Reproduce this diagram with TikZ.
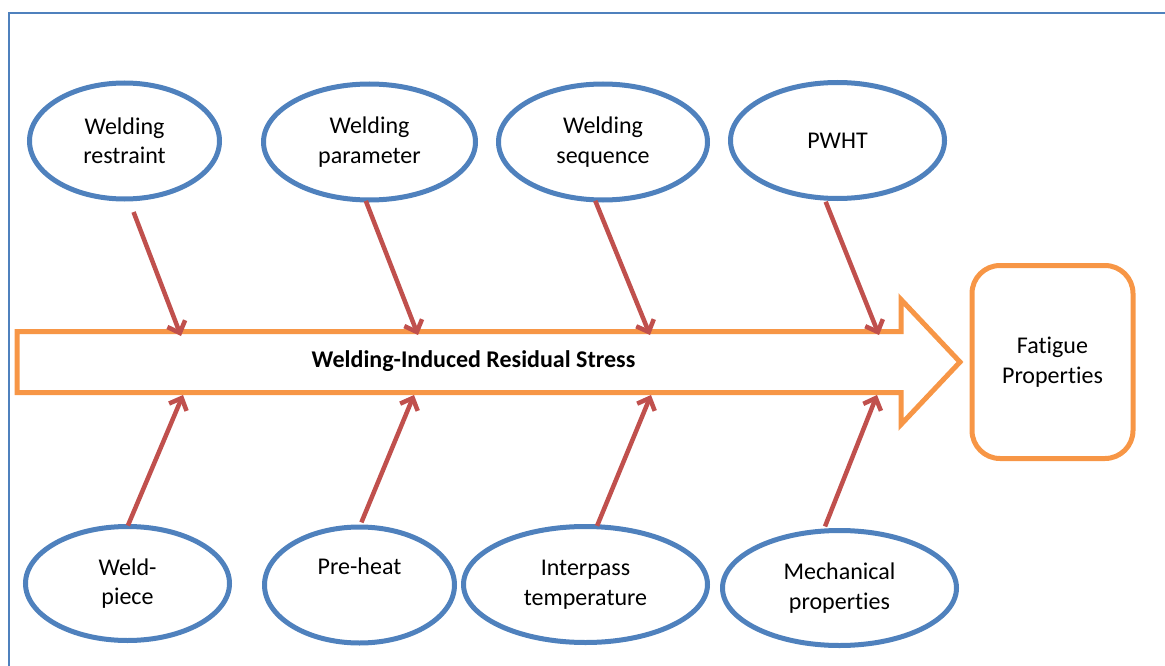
\documentclass[tikz,border=0pt]{standalone}
\usepackage{fontspec}
\setmainfont{Carlito}[Ligatures=NoCommon]
\usetikzlibrary{shapes.geometric,arrows.meta}
\definecolor{frameblue}{HTML}{4F81BD}
\definecolor{causeblue}{HTML}{4F81BD}
\definecolor{spineorange}{HTML}{F79646}
\definecolor{causered}{HTML}{C0504D}
\begin{document}
\begin{tikzpicture}[x=1pt,y=-1pt,
  every node/.style={font=\fontsize{24}{29.5}\selectfont, text=black},
  cause/.style={ellipse, draw=causeblue, line width=5pt, inner sep=0pt,
    outer sep=0pt, align=center, fill=white},
  effect/.style={rectangle, rounded corners=28pt, draw=spineorange,
    line width=5pt, inner sep=0pt, align=center,
    minimum width=161pt, minimum height=193pt},
  push/.style={draw=causered, line width=4.5pt,
    -{Straight Barb[length=10pt,width=19pt]}},
]
\useasboundingbox (0,0) rectangle (1165,666);

% outer frame (left and top edges)
\draw[frameblue, line width=2pt] (8.5,666) -- (8.5,13) -- (1165,13);

% main spine arrow
\draw[spineorange, line width=5pt, line join=miter, fill=white]
  (17,331.5) -- (901,331.5) -- (901,299.5) -- (960,362)
  -- (901,424.5) -- (901,392.5) -- (17,392.5) -- cycle;
\node[font=\fontsize{24}{29.5}\selectfont\bfseries] (spine) at (473.5,361)
  {Welding-Induced Residual Stress};

% effect
\node[effect] (fatigue) at (1052.5,362) {Fatigue\\Properties};

% causes above the spine
\node[cause, minimum width=190pt, minimum height=116pt] (restraint) at (124.5,141) {Welding\\restraint};
\node[cause, minimum width=212pt, minimum height=116pt] (parameter) at (369.5,142) {Welding\\parameter};
\node[cause, minimum width=209pt, minimum height=116pt] (sequence) at (603,142) {Welding\\sequence};
\node[cause, minimum width=214pt, minimum height=116pt] (pwht) at (837.5,140.5) {PWHT};

% causes below the spine
\node[cause, minimum width=204pt, minimum height=114pt] (weldpiece) at (127.5,583.5) {Weld-\\piece};
\node[cause, minimum width=190pt, minimum height=116pt] (preheat) at (359.5,585) {Pre-heat\\\strut};
\node[cause, minimum width=244pt, minimum height=116pt] (interpass) at (585.5,584.5) {Interpass\\temperature};
\node[cause, minimum width=234pt, minimum height=115pt] (mechanical) at (839.5,588) {Mechanical\\properties};

% points where the causes meet the spine
\coordinate (t1) at (181,336);
\coordinate (t2) at (418,335);
\coordinate (t3) at (650,335);
\coordinate (t4) at (879,335);
\coordinate (b1) at (183,395);
\coordinate (b2) at (414,395);
\coordinate (b3) at (651,395);
\coordinate (b4) at (877,395);

% cause arrows
\draw[push, shorten <=14pt] (restraint.274) -- (t1);
\draw[push, shorten <=1pt] (parameter.266) -- (t2);
\draw[push, shorten <=1pt] (sequence.262) -- (t3);
\draw[push, shorten <=4pt] (pwht.257) -- (t4);
\draw[push, shorten <=1pt] (weldpiece.90) -- (b1);
\draw[push, shorten <=5pt] (preheat.90) -- (b2);
\draw[push, shorten <=1pt] (interpass.79) -- (b3);
\draw[push, shorten <=5pt] (mechanical.106) -- (b4);
\end{tikzpicture}
\end{document}
